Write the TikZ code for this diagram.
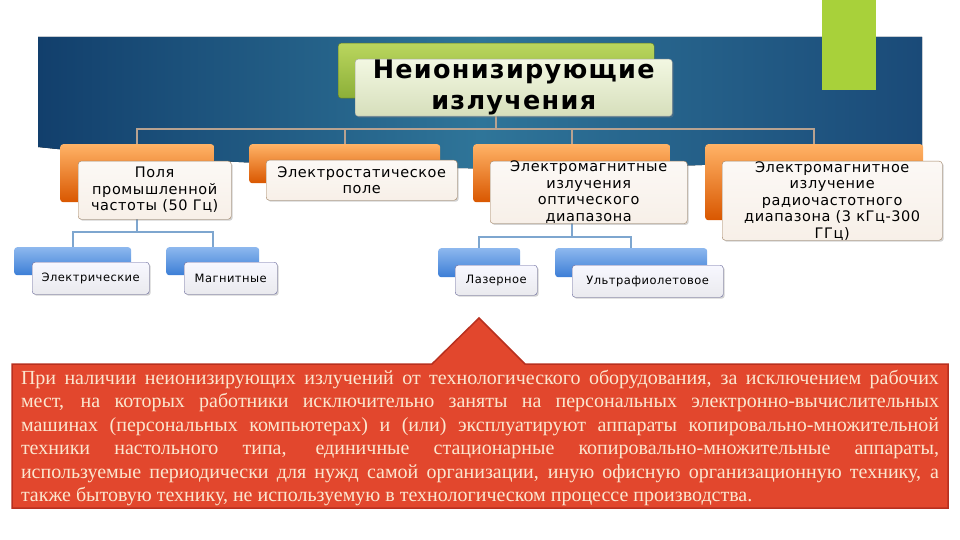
\documentclass[tikz,border=0pt]{standalone}
\usepackage{fontspec}
\setmainfont{Liberation Serif}
\newfontfamily\boxfont[LetterSpace=4]{DejaVu Sans}
\newfontfamily\rootfont[LetterSpace=5]{DejaVu Sans}
\usetikzlibrary{backgrounds,shadows}
\definecolor{bannerL}{HTML}{123F6C}
\definecolor{bannerM}{HTML}{2F7599}
\definecolor{bannerR}{HTML}{1A4A78}
\definecolor{greenbar}{HTML}{A8D13A}
\definecolor{greentop}{HTML}{BAD65E}
\definecolor{greenbot}{HTML}{8CAF38}
\definecolor{bluetop}{HTML}{8DB8EE}
\definecolor{bluebot}{HTML}{3C7ED6}
\definecolor{linktan}{HTML}{B8A290}
\definecolor{linkblue}{HTML}{7EA6CF}
\definecolor{calloutred}{HTML}{E2472D}
\definecolor{calloutedge}{HTML}{B8301F}
\definecolor{notetext}{HTML}{FBE6CF}
\hyphenpenalty=10000
\exhyphenpenalty=10000
\begin{document}
\begin{tikzpicture}[x=1pt,y=-1pt,inner sep=0pt,
    link/.style={draw=linktan,line width=2pt},
    sublink/.style={draw=linkblue,line width=2pt},
    box/.style={rounded corners=3pt,anchor=north west,align=center},
    rootback/.style={box,top color=greentop,bottom color=greenbot,draw=greenbot!70!black},
    rootfront/.style={box,top color=greentop!18!white,bottom color=greentop!32!white!92!black,draw=gray!70,
        drop shadow={opacity=.35,shadow xshift=1.5pt,shadow yshift=-1.5pt},font=\rootfont\bfseries\fontsize{25.5}{31}\selectfont},
    oback/.style={box,top color=orange!60!white,bottom color=orange!80!red!85!black},
    ofront/.style={box,top color=brown!5!white,bottom color=brown!12!white,draw=brown!50!gray,
        drop shadow={opacity=.35,shadow xshift=1.5pt,shadow yshift=-1.5pt},font=\boxfont\fontsize{14.5}{16.5}\selectfont},
    bback/.style={box,top color=bluetop,bottom color=bluebot},
    bfront/.style={box,top color=blue!3!white,bottom color=blue!10!gray!15!white,draw=blue!20!gray,
        drop shadow={opacity=.35,shadow xshift=1.5pt,shadow yshift=-1.5pt},font=\boxfont\fontsize{11.5}{13}\selectfont}]
\useasboundingbox (0,0) rectangle (960,540);

\node[rootback,minimum width=316pt,minimum height=55pt] (root) at (338,43) {};
\node[rootfront,minimum width=317pt,minimum height=57pt] (roottxt) at (355,59) {Неионизирующие\\излучения};

\node[oback,minimum width=154pt,minimum height=58pt] (ind) at (60,144) {};
\node[ofront,minimum width=153pt,minimum height=58pt] (indtxt) at (78,161) {Поля\\промышленной\\частоты (50 Гц)};
\node[oback,minimum width=191pt,minimum height=39pt] (stat) at (249,144) {};
\node[ofront,minimum width=191pt,minimum height=40pt] (stattxt) at (266,160) {Электростатическое\\поле};
\node[oback,minimum width=197pt,minimum height=58pt] (opt) at (473,144) {};
\node[ofront,minimum width=197pt,minimum height=60pt] (opttxt) at (490,161) {Электромагнитные\\излучения\\оптического\\диапазона};
\node[oback,minimum width=218pt,minimum height=76pt] (rad) at (705,144) {};
\node[ofront,minimum width=220pt,minimum height=79pt] (radtxt) at (722,161) {Электромагнитное\\излучение\\радиочастотного\\диапазона (3 кГц-300\\ГГц)};

\node[bback,minimum width=117pt,minimum height=28pt] (el) at (14,247) {};
\node[bfront,minimum width=117pt,minimum height=32pt] (eltxt) at (32,262) {Электрические};
\node[bback,minimum width=93pt,minimum height=28pt] (mag) at (166,247) {};
\node[bfront,minimum width=93pt,minimum height=32pt] (magtxt) at (184,262) {Магнитные};
\node[bback,minimum width=82pt,minimum height=29pt] (las) at (438,248) {};
\node[bfront,minimum width=82pt,minimum height=30pt] (lastxt) at (455,265) {Лазерное};
\node[bback,minimum width=152pt,minimum height=29pt] (uv) at (555,248) {};
\node[bfront,minimum width=151pt,minimum height=32pt] (uvtxt) at (572,265) {Ультрафиолетовое};

\begin{scope}[on background layer]
    \fill[left color=bannerL,right color=bannerR,middle color=bannerM]
        (38,37) -- (922,37) -- (922,150) .. controls (700,175) and (300,175) .. (38,147) -- cycle;
    \draw[link] (root.south) -- ++(0,31) -| (ind.north);
    \draw[link] (root.south) -- ++(0,31) -| (stat.north);
    \draw[link] (root.south) -- ++(0,31) -| (opt.north);
    \draw[link] (root.south) -- ++(0,31) -| (rad.north);
    \draw[sublink] (ind.south) -- ++(0,30) -| (el.north);
    \draw[sublink] (ind.south) -- ++(0,30) -| (mag.north);
    \draw[sublink] (opt.south) -- ++(0,35) -| (las.north);
    \draw[sublink] (opt.south) -- ++(0,35) -| (uv.north);
\end{scope}
\fill[greenbar] (822,0) rectangle (876,90);

\filldraw[fill=calloutred,draw=calloutedge,line width=1.5pt]
    (12,364) -- (432,364) -- (479,318) -- (525,364) -- (948,364) -- (948,508) -- (12,508) -- cycle;
\node[text width=918pt,align=justify,text=notetext,font=\fontsize{20}{23.4}\selectfont] (note) at (480,438)
    {При наличии неионизирующих излучений от технологического оборудования, за исключением рабочих\linebreak
    мест, на которых работники исключительно заняты на персональных электронно-вычислительных\linebreak
    машинах (персональных компьютерах) и (или) эксплуатируют аппараты копировально-множительной\linebreak
    техники настольного типа, единичные стационарные копировально-множительные аппараты,\linebreak
    используемые периодически для нужд самой организации, иную офисную организационную технику, а\linebreak
    также бытовую технику, не используемую в технологическом процессе производства.};
\end{tikzpicture}
\end{document}
